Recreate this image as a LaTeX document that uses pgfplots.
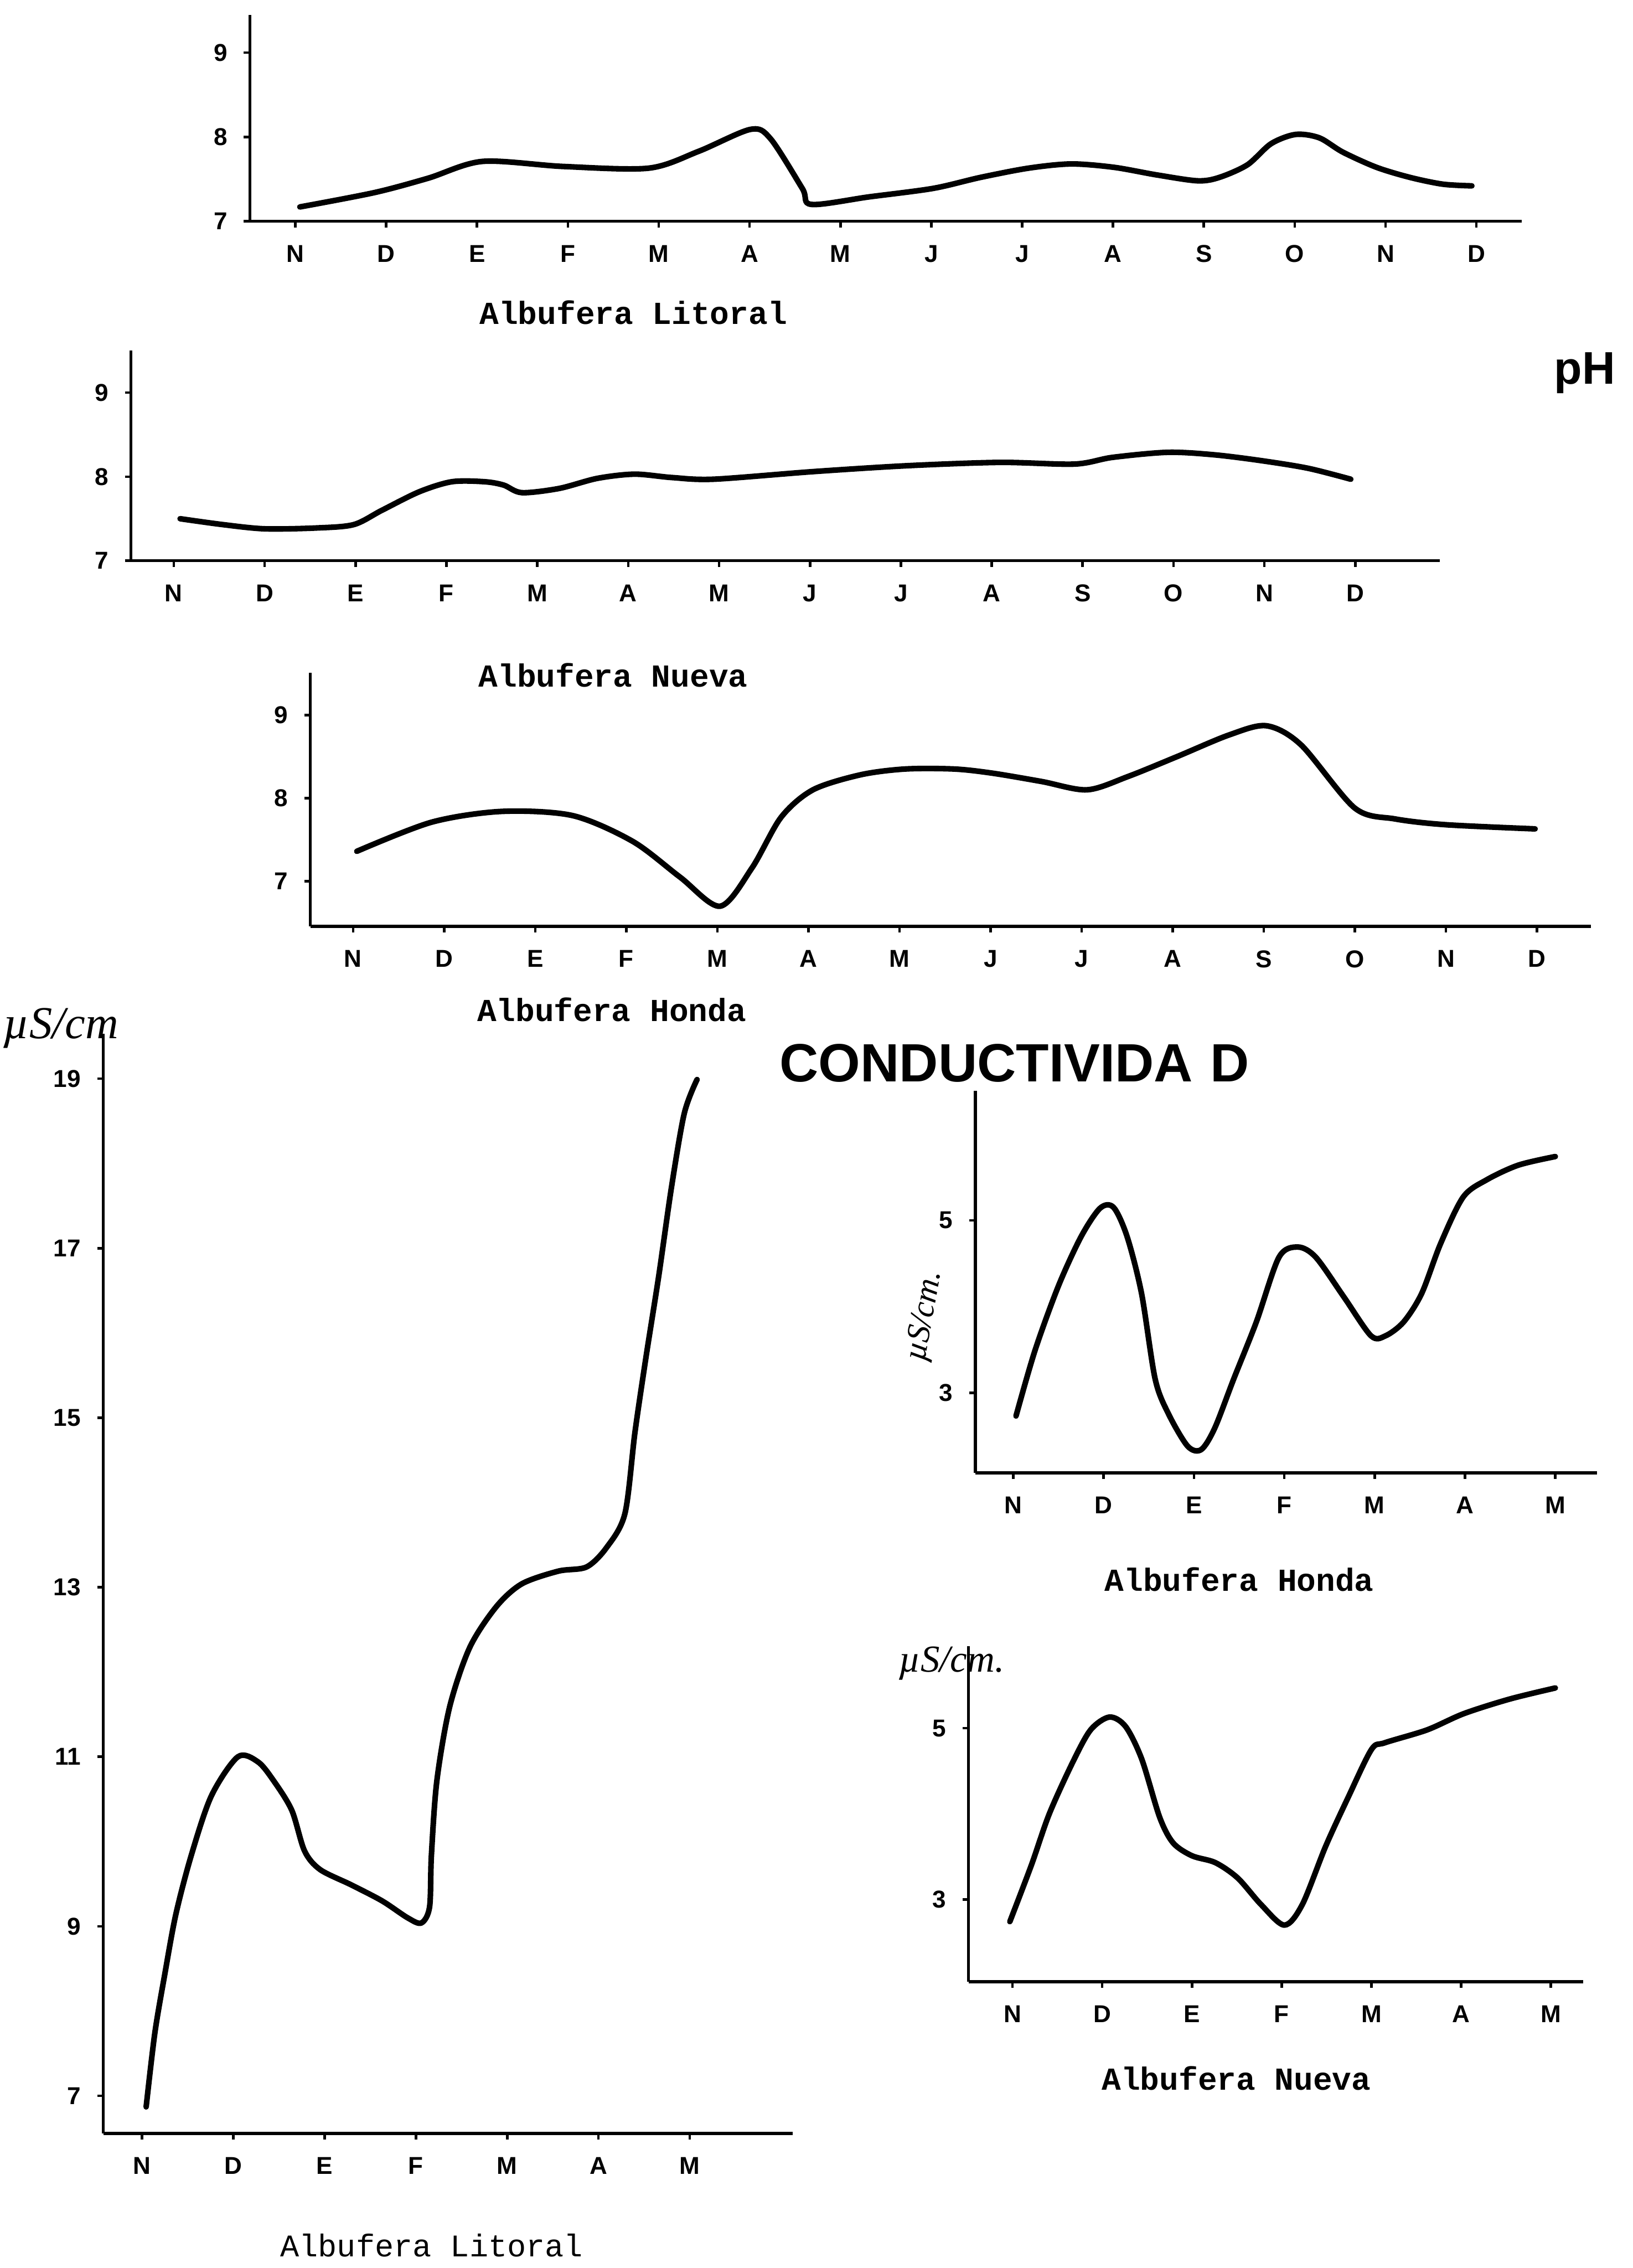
\documentclass[border=0pt]{standalone}
\usepackage{fontspec}
\setmainfont{Liberation Sans}
\newfontfamily\mono{Liberation Mono}
\newfontfamily\hand{Liberation Serif}
\usepackage{pgfplots}
\pgfplotsset{compat=1.18}

\pgfplotsset{
  scan/.style={
    scale only axis, clip=false,
    axis x line*=bottom, axis y line*=left,
    axis line style={line width=0.6pt},
    tick align=outside, major tick length=1.2pt,
    tick style={line width=0.5pt, black},
    tick label style={font=\bfseries\fontsize{4.8}{5}\selectfont},
    /pgf/number format/assume math mode=true,
    yticklabel style={xshift=0.3pt},
  },
  curve/.style={black, line width=1.1pt, smooth, no marks, line cap=round, line join=round},
  months/.style={xtick={0,...,13}, xticklabels={N,D,E,F,M,A,M,J,J,A,S,O,N,D}},
  half/.style={xtick={0,...,6}, xticklabels={N,D,E,F,M,A,M}},
}

\begin{document}
\begin{tikzpicture}
\path[use as bounding box] (0,0) rectangle (11.29,15.68);

% pH - Albufera Litoral
\begin{axis}[scan, months, at={(1.728cm,14.15cm)}, anchor=south west,
  width=8.796cm, height=1.428cm,
  xmin=-0.5, xmax=13.5, ymin=7, ymax=9.45, ytick={7,8,9}]
\addplot[curve] coordinates {
 (0.05,7.17) (0.87,7.34) (1.46,7.51) (2.06,7.71) (2.95,7.65) (3.89,7.63)
 (4.44,7.83) (5.01,8.09) (5.23,7.98) (5.58,7.39) (5.68,7.20) (6.32,7.29)
 (7.02,7.39) (7.54,7.52) (8.07,7.63) (8.54,7.68) (9.01,7.64) (9.48,7.55)
 (9.93,7.48) (10.17,7.52) (10.48,7.67) (10.74,7.92) (11.01,8.03) (11.27,7.99)
 (11.53,7.82) (11.90,7.64) (12.27,7.52) (12.63,7.44) (12.95,7.42)};
\end{axis}

% pH - Albufera Nueva
\begin{axis}[scan, months, at={(0.906cm,11.803cm)}, anchor=south west,
  width=9.051cm, height=1.453cm,
  xmin=-0.47, xmax=13.93, ymin=7, ymax=9.5, ytick={7,8,9}]
\addplot[curve] coordinates {
 (0.07,7.50) (0.54,7.43) (1.00,7.38) (1.57,7.39) (1.98,7.43) (2.29,7.60)
 (2.70,7.82) (3.06,7.94) (3.42,7.94) (3.63,7.90) (3.83,7.81) (4.24,7.86)
 (4.66,7.98) (5.07,8.03) (5.48,7.99) (5.94,7.97) (7.03,8.06) (8.06,8.13)
 (9.09,8.17) (9.91,8.15) (10.33,8.23) (10.94,8.29) (11.45,8.26) (11.97,8.19)
 (12.48,8.10) (12.95,7.97)};
\end{axis}

% pH - Albufera Honda
\begin{axis}[scan, months, at={(2.146cm,9.275cm)}, anchor=south west,
  width=8.854cm, height=1.755cm,
  xmin=-0.47, xmax=13.59, ymin=6.457, ymax=9.51, ytick={7,8,9}]
\addplot[curve] coordinates {
 (0.04,7.36) (0.86,7.71) (1.63,7.84) (2.41,7.79) (3.07,7.48) (3.59,7.05)
 (4.03,6.70) (4.38,7.16) (4.70,7.77) (5.05,8.10) (5.57,8.28) (6.06,8.35)
 (6.60,8.35) (7.02,8.30) (7.56,8.20) (8.06,8.10) (8.51,8.26) (9.05,8.50)
 (9.62,8.76) (10.03,8.87) (10.41,8.64) (11.00,7.88) (11.44,7.75) (12.00,7.68)
 (12.98,7.63)};
\end{axis}

% Conductividad - Albufera Litoral
\begin{axis}[scan, half, at={(0.714cm,0.931cm)}, anchor=south west,
  width=4.769cm, height=7.602cm,
  xmin=-0.425, xmax=7.13, ymin=6.558, ymax=19.53, ytick={7,9,11,13,15,17,19}]
\addplot[curve] coordinates {
 (0.045,6.87) (0.14,7.74) (0.25,8.44) (0.37,9.14) (0.54,9.84) (0.76,10.54)
 (1.05,11.00) (1.27,10.94) (1.44,10.72) (1.64,10.37) (1.78,9.89) (1.95,9.67)
 (2.29,9.49) (2.63,9.30) (2.91,9.10) (3.06,9.04) (3.15,9.23) (3.17,9.84)
 (3.23,10.72) (3.37,11.59) (3.59,12.29) (3.88,12.77) (4.16,13.04) (4.56,13.19)
 (4.87,13.24) (5.09,13.47) (5.29,13.87) (5.40,14.83) (5.52,15.71) (5.66,16.67)
 (5.80,17.72) (5.94,18.59) (6.08,18.99)};
\end{axis}

% Conductividad - Albufera Honda
\begin{axis}[scan, half, at={(6.745cm,5.497cm)}, anchor=south west,
  width=4.298cm, height=2.640cm,
  xmin=-0.42, xmax=6.46, ymin=2.07, ymax=6.5, ytick={3,5}]
\addplot[curve] coordinates {
 (0.03,2.73) (0.24,3.49) (0.50,4.24) (0.75,4.81) (0.96,5.14) (1.11,5.15)
 (1.26,4.81) (1.42,4.15) (1.57,3.16) (1.72,2.75) (1.93,2.38) (2.08,2.34)
 (2.23,2.59) (2.44,3.16) (2.69,3.82) (2.94,4.57) (3.15,4.69) (3.35,4.57)
 (3.66,4.11) (3.96,3.66) (4.12,3.66) (4.32,3.82) (4.52,4.15) (4.73,4.73)
 (4.98,5.27) (5.24,5.47) (5.59,5.64) (6.00,5.74)};
\end{axis}

% Conductividad - Albufera Nueva
\begin{axis}[scan, half, at={(6.698cm,1.98cm)}, anchor=south west,
  width=4.25cm, height=2.32cm,
  xmin=-0.49, xmax=6.36, ymin=2.04, ymax=5.96, ytick={3,5}]
\addplot[curve] coordinates {
 (-0.03,2.74) (0.21,3.40) (0.41,4.00) (0.67,4.60) (0.87,4.98) (1.08,5.13)
 (1.26,5.02) (1.44,4.64) (1.64,3.96) (1.79,3.66) (2.00,3.51) (2.26,3.43)
 (2.51,3.25) (2.77,2.94) (3.03,2.70) (3.23,2.94) (3.49,3.62) (3.74,4.19)
 (4.00,4.75) (4.15,4.83) (4.62,4.98) (5.03,5.17) (5.54,5.34) (6.05,5.47)};
\end{axis}

% captions and headings
\begin{scope}[every node/.style={inner sep=0pt}]
\node[font=\mono\bfseries\fontsize{6.3}{7}\selectfont] at (4.38,13.52) {Albufera Litoral};
\node[font=\mono\bfseries\fontsize{6.3}{7}\selectfont] at (4.24,11.01) {Albufera Nueva};
\node[font=\mono\bfseries\fontsize{6.3}{7}\selectfont] at (4.23,8.70) {Albufera Honda};
\node[font=\mono\bfseries\fontsize{6.3}{7}\selectfont] at (8.57,4.76) {Albufera Honda};
\node[font=\mono\bfseries\fontsize{6.3}{7}\selectfont] at (8.55,1.31) {Albufera Nueva};
\node[font=\mono\fontsize{6.2}{7}\selectfont] at (2.985,0.155) {Albufera Litoral};
\node[font=\bfseries\fontsize{9}{10}\selectfont] at (10.96,13.10) {pH};
\node[font=\bfseries\fontsize{10.6}{12}\selectfont] at (7.015,8.33) {CONDUCTIVIDA\hspace{1.2mm}D};
\node[font=\hand\itshape\fontsize{9}{10}\selectfont] at (0.42,8.57) {µS/cm};
\node[font=\hand\itshape\fontsize{6.5}{7}\selectfont, rotate=80] at (6.40,6.58) {µS/cm.};
\node[font=\hand\itshape\fontsize{7.5}{8}\selectfont] at (6.58,4.18) {µS/cm.};
\end{scope}
\end{tikzpicture}
\end{document}
